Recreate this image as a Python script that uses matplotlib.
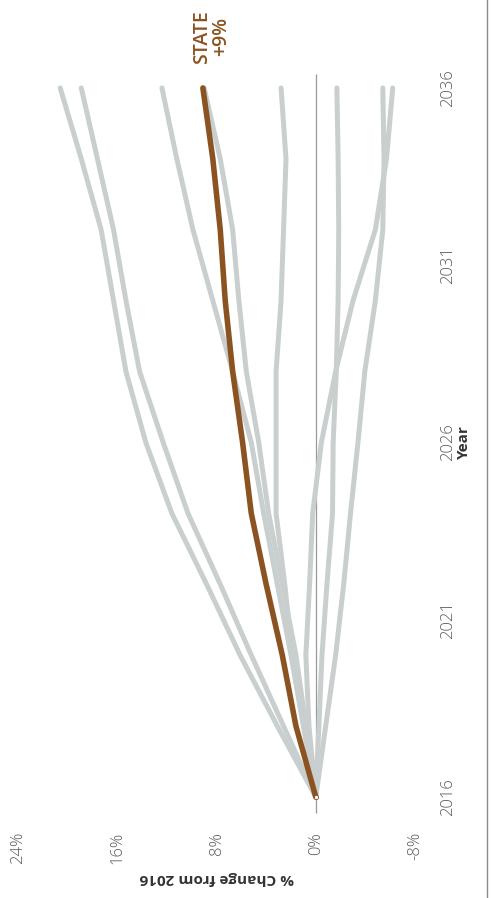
import matplotlib.pyplot as plt
from matplotlib.lines import Line2D

plt.rcParams['font.family'] = ['Open Sans', 'DejaVu Sans']

# Percent change from 2016 (every 2 years)
years = [2016, 2018, 2020, 2022, 2024, 2026, 2028, 2030, 2032, 2034, 2036]

region_a = [0, 3.1, 6.1, 8.8, 11.6, 13.7, 15.3, 16.3, 17.3, 18.9, 20.6]
region_b = [0, 2.6, 5.2, 7.7, 10.3, 12.3, 14.2, 15.3, 16.3, 17.6, 18.9]
region_c = [0, 1.0, 2.0, 3.1, 4.2, 5.2, 6.7, 8.3, 9.9, 11.2, 12.4]
region_d = [0, 0.8, 1.6, 2.7, 3.8, 4.6, 5.6, 6.2, 6.7, 7.7, 9.0]
region_e = [0, 0.9, 1.9, 2.5, 3.2, 3.2, 3.2, 2.8, 2.6, 2.4, 2.8]
region_f = [0, -0.25, -0.5, -0.9, -1.35, -1.4, -1.65, -1.8, -1.85, -1.8, -1.7]
region_g = [0, -0.8, -1.6, -2.25, -2.8, -3.4, -3.95, -4.8, -5.4, -5.5, -5.4]
region_h = [0, 0.55, 0.8, 0.5, 0.25, -0.45, -1.6, -3.0, -4.8, -5.7, -6.2]
state = [0, 1.6, 2.7, 4.0, 5.2, 5.9, 6.7, 7.3, 7.7, 8.3, 9.1]

pct_ticks = [24, 16, 8, 0, -8]
year_ticks = [2016, 2021, 2026, 2031, 2036]

gray = '#c9cfce'
brown = '#8b5322'

fig = plt.figure(figsize=(4.91, 8.98), dpi=100)
# chart is drawn turned on its side: % runs right-to-left, years bottom-to-top
ax = fig.add_axes([0.0367, 0.0928, 0.8086, 0.8290])

ax.vlines(0, 2015.55, 2036.4, color='#999999', lw=0.9, zorder=1)

for reg in [region_a, region_b, region_c, region_d, region_e,
            region_f, region_g, region_h]:
    ax.plot(reg, years, color=gray, lw=3.6, solid_capstyle='round',
            solid_joinstyle='round', zorder=2)
ax.plot(state, years, color=brown, lw=4.0, solid_capstyle='round',
        solid_joinstyle='round', zorder=3)
ax.plot(state[0], years[0], 'o', ms=3, mfc='white', mec=brown, mew=0.6, zorder=4)

ax.annotate('STATE\n+9%', xy=(state[-1], years[-1]), xytext=(9, 51),
            textcoords='offset pixels', rotation=90, ha='center', va='center',
            color=brown, fontsize=14, fontweight='semibold', linespacing=0.95)

ax.set_xlim(24, -8)
ax.set_ylim(2015.5, 2036.5)
ax.set_xticks(pct_ticks)
ax.set_xticklabels([f'{t}%' for t in pct_ticks], rotation=90)
ax.set_yticks(year_ticks)
ax.set_yticklabels([str(y) for y in year_ticks], rotation=90, va='center')
ax.yaxis.tick_right()
ax.tick_params(axis='x', length=0, pad=12.5, labelsize=12, labelcolor='#5a5a5a')
ax.tick_params(axis='y', length=0, pad=18, labelsize=12, labelcolor='#5a5a5a')
for lab in ax.get_xticklabels() + ax.get_yticklabels():
    lab.set_fontweight('light')
for s in ax.spines.values():
    s.set_visible(False)

ax.text(1.1234, 0.5, 'Year', transform=ax.transAxes, rotation=90,
        ha='center', va='center', fontsize=11, fontweight='bold', color='#333333')
ax.text(0.5, -0.085, '% Change from 2016', transform=ax.transAxes, rotation=180,
        ha='center', va='center', fontsize=11, fontweight='bold', color='#333333')

# frame edge on the right
fig.add_artist(Line2D([487 / 491, 487 / 491], [0, 1], color='#8a8a8a', lw=1.0))

fig.savefig('out.png', dpi=100)
